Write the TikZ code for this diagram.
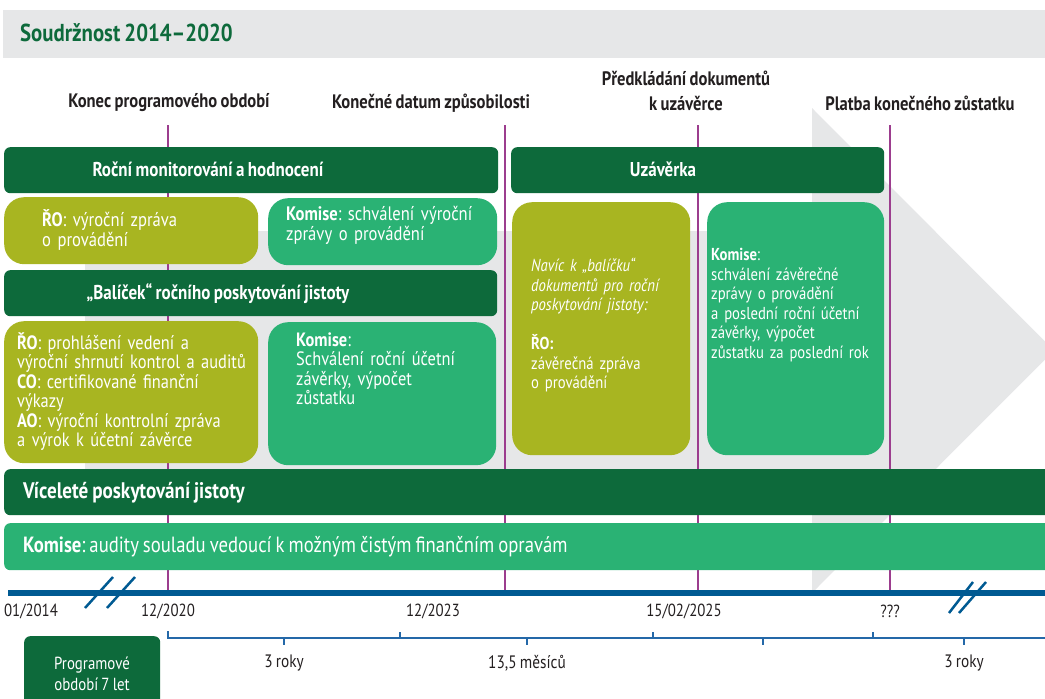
\documentclass[tikz,border=0pt]{standalone}
\usepackage{fontspec}
\setmainfont{PT Sans}[FakeStretch=0.85, WordSpace=0.8]
\definecolor{dgreen}{HTML}{0D6A3B}
\definecolor{olivebox}{HTML}{A8B521}
\definecolor{mgreen}{HTML}{2AB274}
\definecolor{purp}{HTML}{9C3D8E}
\definecolor{bggray}{HTML}{E6E7E8}
\definecolor{tlblue}{HTML}{005A92}
\definecolor{brblue}{HTML}{2468A8}
\definecolor{txt}{HTML}{231F20}
\newcommand{\fsA}{\fontsize{19.5}{20}\selectfont}
\newcommand{\fsB}{\fontsize{17.3}{19.5}\selectfont}
\frenchspacing
\tikzset{
  bar/.style={fill=dgreen, rounded corners=6pt, draw=none, anchor=north west, inner sep=0pt},
  obox/.style={fill=olivebox, rounded corners=20pt, draw=none, anchor=north west, inner sep=0pt},
  gbox/.style={fill=mgreen, rounded corners=20pt, draw=none, anchor=north west, inner sep=0pt},
  bartext/.style={text=white, font=\fontsize{20}{22}\selectfont\bfseries, inner sep=0pt},
  boxtext/.style={text=white, anchor=base west, align=left, inner sep=0pt, text width=#1},
  toplabel/.style={text=txt, font=\fontsize{19.5}{25}\selectfont\bfseries, align=center, inner sep=0pt},
  datelabel/.style={text=txt, font=\fontsize{17.5}{19}\selectfont, inner sep=0pt},
  spanlabel/.style={text=txt, font=\fontsize{18}{19}\selectfont, inner sep=0pt},
  vline/.style={draw=purp, line width=2pt},
  brace/.style={draw=brblue, line width=1.2pt},
  brk/.style={draw=tlblue, line width=2.5pt}
}
\begin{document}
\begin{tikzpicture}[x=1pt,y=-1pt]
\useasboundingbox (0,0) rectangle (1045,699);
% header band
\fill[bggray] (3,10) rectangle (1045,58);
\node[anchor=west, inner sep=0pt, text=dgreen, font=\fontsize{24.5}{26}\selectfont\bfseries] (title) at (20,33) {Soudržnost 2014–2020};
% background arrow
\fill[bggray] (85,231) -- (812,231) -- (812,108) -- (1054,350.5) -- (812,593) -- (812,469) -- (85,469) -- cycle;
% top labels
\node[toplabel] (l1) at (169,103) {Konec programového období};
\node[toplabel] (l2) at (431,103) {Konečné datum způsobilosti};
\node[toplabel] (l3) at (686,90.5) {Předkládání dokumentů\\k uzávěrce};
\node[toplabel] (l4) at (920,103) {Platba konečného zůstatku};
% vertical milestone lines
\coordinate (v1t) at (168,125); \coordinate (v1b) at (168,593);
\coordinate (v2t) at (505,125); \coordinate (v2b) at (505,593);
\coordinate (v3t) at (698,125); \coordinate (v3b) at (698,593);
\coordinate (v4t) at (890,125); \coordinate (v4b) at (890,593);
\draw[vline] (v1t) -- (v1b);
\draw[vline] (v2t) -- (v2b);
\draw[vline] (v3t) -- (v3b);
\draw[vline] (v4t) -- (v4b);
% bars
\node[bar, minimum width=494pt, minimum height=46pt] (b1) at (4,147) {};
\node[bartext] (b1t) at (208,169) {Roční monitorování a hodnocení};
\node[bar, minimum width=373pt, minimum height=46pt] (b2) at (511,147) {};
\node[bartext] (b2t) at (663,169) {Uzávěrka};
\node[bar, minimum width=493pt, minimum height=46pt] (b3) at (4,270) {};
\node[bartext] (b3t) at (218,294) {„Balíček“ ročního poskytování jistoty};
% column 1-2 boxes
\node[obox, minimum width=254pt, minimum height=67pt] (o1) at (4,197) {};
\node[boxtext=210pt, font=\fsA] (o1t) at (42,226) {\textbf{ŘO}: výroční zpráva\\o provádění};
\node[gbox, minimum width=229pt, minimum height=67pt] (g1) at (268,198) {};
\node[boxtext=210pt, font=\fsA] (g1t) at (286,220) {\textbf{Komise}: schválení výroční\\zprávy o provádění};
\node[obox, minimum width=254pt, minimum height=142pt] (o2) at (4,321) {};
\node[boxtext=240pt, font=\fontsize{19.3}{19.5}\selectfont] (o2t) at (17,349) {\textbf{ŘO}: prohlášení vedení a\\výroční shrnutí kontrol a auditů\\\textbf{CO}: certifikované finanční\\výkazy\\\textbf{AO}: výroční kontrolní zpráva\\a výrok k účetní závěrce};
\node[gbox, minimum width=228pt, minimum height=143pt] (g2) at (268,322) {};
\node[boxtext=200pt, font=\fontsize{19.3}{19.5}\selectfont] (g2t) at (296,346) {\textbf{Komise}:\\Schválení roční účetní\\závěrky, výpočet\\zůstatku};
% column 3-4 boxes
\node[obox, minimum width=178pt, minimum height=253pt] (o3) at (512,202) {};
\node[boxtext=160pt, font=\fsB] (o3t) at (531,271.5) {\textit{Navíc k „balíčku“}\\\textit{dokumentů pro roční}\\\textit{poskytování jistoty:}\\[19.5pt]\textbf{ŘO:}\\závěrečná zpráva\\o provádění};
\node[gbox, minimum width=177pt, minimum height=253pt] (g3) at (707,202) {};
\node[boxtext=170pt, font=\fsB] (g3t) at (711,260.5) {\textbf{Komise}:\\schválení závěrečné\\zprávy o provádění\\a poslední roční účetní\\závěrky, výpočet\\zůstatku za poslední rok};
% long bars
\node[bar, minimum width=1060pt, minimum height=46pt] (b4) at (4,469) {};
\node[anchor=west, inner sep=0pt, text=white, font=\fontsize{22.5}{24}\selectfont\bfseries] (b4t) at (23,493) {Víceleté poskytování jistoty};
\node[fill=mgreen, rounded corners=6pt, anchor=north west, inner sep=0pt, minimum width=1060pt, minimum height=47pt] (b5) at (4,523) {};
\node[anchor=west, inner sep=0pt, text=white, font=\fontsize{22}{24}\selectfont] (b5t) at (23,547) {\textbf{Komise}: audity souladu vedoucí k možným čistým finančním opravám};
% timeline
\coordinate (tl0) at (8,593); \coordinate (tl1) at (1045,593);
\draw[draw=tlblue, line width=6pt] (tl0) -- (tl1);
\draw[brk] (85,608) -- (113,577);
\draw[brk] (107,608) -- (135,577);
\draw[brk] (949,613) -- (973,582);
\draw[brk] (959,613) -- (986,582);
% dates
\node[datelabel] (d1) at (31,611) {01/2014};
\node[datelabel] (d2) at (168,611) {12/2020};
\node[datelabel] (d3) at (433,611) {12/2023};
\node[datelabel] (d4) at (684,611) {15/02/2025};
\node[datelabel] (d5) at (890,611) {???};
% braces
\draw[brace] (168,631) -- (168,638) -- (1045,638);
\draw[brace] (400,638) -- (400,632);
\draw[brace] (653,638) -- (653,632);
\draw[brace] (873,638) -- (873,632);
\draw[brace] (284,638) -- (284,645);
\draw[brace] (527,638) -- (527,645);
\draw[brace] (763,638) -- (763,645);
\draw[brace] (964,638) -- (964,645);
\node[spanlabel] (s1) at (284,663) {3 roky};
\node[spanlabel] (s2) at (527,663) {13,5 měsíců};
\node[spanlabel] (s3) at (964,663) {3 roky};
% programme period box
\node[fill=dgreen, rounded corners=6pt, anchor=north west, inner sep=0pt, minimum width=136pt, minimum height=80pt] (pp) at (24,636) {};
\node[text=white, align=center, inner sep=0pt, font=\fontsize{17.5}{21}\selectfont] (ppt) at (92,673.5) {Programové\\období 7 let};
\end{tikzpicture}
\end{document}
